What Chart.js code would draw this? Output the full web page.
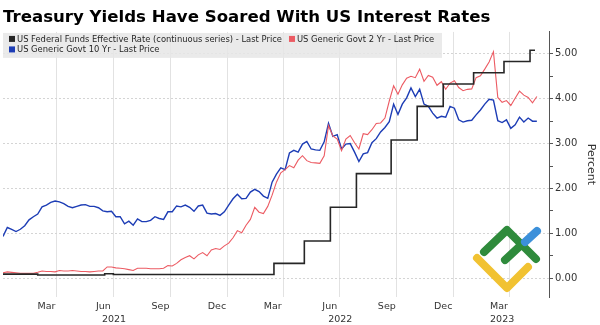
<!DOCTYPE html>
<html>
<head>
<meta charset="utf-8">
<script src="https://cdn.jsdelivr.net/npm/chart.js@4.4.0/dist/chart.umd.min.js"></script>
<style>
    html, body { margin: 0; padding: 0; background: #fff; }
</style>
</head>
<body>
<canvas id="yieldChart" width="600" height="325"></canvas>
<script>
const chartTitle = 'Treasury Yields Have Soared With US Interest Rates';
const seriesNames = [
    'US Federal Funds Effective Rate (continuous series) - Last Price',
    'US Generic Govt 2 Yr - Last Price',
    'US Generic Govt 10 Yr - Last Price'
];

// weekly readings, one per week starting on this date
const weekStart = '2021-01-04';

const govt2y = [
    0.12, 0.14, 0.13, 0.12, 0.11, 0.11, 0.11, 0.11, 0.13, 0.16, 0.15, 0.15, 0.14,
    0.17, 0.16, 0.16, 0.17, 0.16, 0.15, 0.15, 0.14, 0.15, 0.16, 0.16, 0.25, 0.25,
    0.23, 0.22, 0.21, 0.19, 0.17, 0.22, 0.22, 0.22, 0.21, 0.21, 0.21, 0.22, 0.28,
    0.27, 0.33, 0.41, 0.46, 0.50, 0.43, 0.52, 0.57, 0.50, 0.63, 0.66, 0.64, 0.72,
    0.78, 0.90, 1.06, 1.01, 1.18, 1.31, 1.58, 1.47, 1.44, 1.60, 1.85, 2.14, 2.35,
    2.42, 2.51, 2.46, 2.63, 2.73, 2.62, 2.58, 2.57, 2.56, 2.73, 3.40, 3.17, 3.10,
    2.84, 3.10, 3.18, 3.02, 2.88, 3.22, 3.20, 3.31, 3.45, 3.46, 3.57, 3.95, 4.29,
    4.10, 4.31, 4.46, 4.50, 4.47, 4.66, 4.39, 4.52, 4.48, 4.30, 4.38, 4.21, 4.35,
    4.40, 4.25, 4.18, 4.21, 4.22, 4.47, 4.51, 4.66, 4.82, 5.05, 4.03, 3.92, 3.96,
    3.85, 4.01, 4.17, 4.08, 4.03, 3.91, 4.05
];

const govt10y = [
    0.93, 1.13, 1.09, 1.04, 1.09, 1.17, 1.30, 1.37, 1.43, 1.59, 1.63, 1.69, 1.72,
    1.70, 1.66, 1.60, 1.57, 1.60, 1.63, 1.64, 1.60, 1.60, 1.57, 1.50, 1.48, 1.49,
    1.37, 1.37, 1.21, 1.27, 1.18, 1.32, 1.26, 1.26, 1.29, 1.37, 1.33, 1.31, 1.48,
    1.48, 1.61, 1.59, 1.63, 1.58, 1.49, 1.61, 1.63, 1.45, 1.43, 1.44, 1.40, 1.48,
    1.63, 1.77, 1.87, 1.77, 1.78, 1.92, 1.98, 1.93, 1.83, 1.78, 2.14, 2.32, 2.46,
    2.42, 2.79, 2.85, 2.81, 2.99, 3.05, 2.88, 2.86, 2.85, 3.04, 3.45, 3.16, 3.20,
    2.88, 2.99, 3.00, 2.81, 2.60, 2.77, 2.80, 3.02, 3.11, 3.26, 3.36, 3.49, 3.88,
    3.65, 3.88, 4.02, 4.24, 4.05, 4.21, 3.88, 3.83, 3.68, 3.57, 3.61, 3.59, 3.83,
    3.79, 3.53, 3.48, 3.51, 3.52, 3.64, 3.75, 3.88, 3.99, 3.97, 3.51, 3.47, 3.53,
    3.34, 3.42, 3.59, 3.48, 3.57, 3.50, 3.50
];

// fed funds effective rate: date of each change and the new level
const fedDates = [
    '2021-01-04', '2021-03-01', '2021-06-17', '2021-07-01', '2022-03-17', '2022-05-05',
    '2022-06-16', '2022-07-28', '2022-09-22', '2022-11-03', '2022-12-15', '2023-02-02',
    '2023-03-23', '2023-05-04', '2023-05-12'
];
const fedRate = [0.09, 0.07, 0.10, 0.08, 0.33, 0.83, 1.58, 2.33, 3.08, 3.83, 4.33, 4.58, 4.83, 5.08, 5.08];

// axis labels
const monthTickDates = ['2021-03-15', '2021-06-15', '2021-09-15', '2021-12-15', '2022-03-15',
    '2022-06-15', '2022-09-15', '2022-12-15', '2023-03-15'];
const monthTickLabels = ['Mar', 'Jun', 'Sep', 'Dec', 'Mar', 'Jun', 'Sep', 'Dec', 'Mar'];
const quarterGridDates = ['2021-04-01', '2021-07-01', '2021-10-01', '2022-01-01', '2022-04-01',
    '2022-07-01', '2022-10-01', '2023-01-01', '2023-04-01'];
const yearTickDates = ['2021-07-02', '2022-07-02', '2023-03-20'];
const yearTickLabels = ['2021', '2022', '2023'];
const yTickLabels = ['0.00', '1.00', '2.00', '3.00', '4.00', '5.00'];
const yMinorTicks = [0.5, 1.5, 2.5, 3.5, 4.5];

const FONT = "'DejaVu Sans', sans-serif";
const epoch = Date.UTC(2021, 0, 1);
function dayOf(s) {
    return (Date.parse(s) - epoch) / 864e5;
}

const firstDay = dayOf(weekStart);
const pts2y = govt2y.map((v, i) => ({ x: firstDay + i * 7, y: v }));
const pts10y = govt10y.map((v, i) => ({ x: firstDay + i * 7, y: v }));
const ptsFed = fedRate.map((v, i) => ({ x: dayOf(fedDates[i]), y: v }));

const xMin = 3;
const xMax = 883.6;

// Legend drawn as a grey box inside the plot, like the terminal chart
const boxLegend = {
    id: 'boxLegend',
    beforeDatasetsDraw(chart) {
        const ctx = chart.ctx;
        const area = chart.chartArea;
        ctx.save();
        ctx.fillStyle = 'rgba(230,230,230,0.85)';
        ctx.fillRect(area.left, area.top + 1, 439, 25);
        ctx.font = '8.4px ' + FONT;
        ctx.textBaseline = 'middle';
        const rows = [[0, 1], [2]];
        rows.forEach((row, r) => {
            let x = area.left + 6;
            const y = area.top + 7 + r * 10.5;
            row.forEach(i => {
                const ds = chart.data.datasets[i];
                ctx.fillStyle = ds.borderColor;
                ctx.fillRect(x, y - 3, 6, 6);
                ctx.fillStyle = '#262626';
                ctx.fillText(ds.label, x + 8, y + 0.5);
                x += 8 + ctx.measureText(ds.label).width + 7;
            });
        });
        ctx.restore();
    }
};

// watermark logo in the lower right corner
const logoMark = {
    id: 'logoMark',
    afterDraw(chart) {
        const ctx = chart.ctx;
        const stroke = (color, pts) => {
            ctx.strokeStyle = color;
            ctx.beginPath();
            pts.forEach((p, i) => i ? ctx.lineTo(p[0], p[1]) : ctx.moveTo(p[0], p[1]));
            ctx.stroke();
        };
        ctx.save();
        ctx.lineWidth = 8;
        ctx.lineCap = 'round';
        ctx.lineJoin = 'round';
        stroke('#f1c232', [[477, 258], [507, 288], [528, 267]]);
        stroke('#2f8b3c', [[484, 252], [507, 230], [536, 259]]);
        stroke('#2f8b3c', [[505, 260], [519, 247]]);
        stroke('#3c90da', [[525, 242], [537, 231]]);
        ctx.restore();
    }
};

const ctx = document.getElementById('yieldChart').getContext('2d');
new Chart(ctx, {
    type: 'line',
    data: {
        datasets: [
            { label: seriesNames[0], data: ptsFed, borderColor: '#262626', borderWidth: 1.6, stepped: 'before', pointRadius: 0 },
            { label: seriesNames[1], data: pts2y, borderColor: '#ec5b63', borderWidth: 1.1, pointRadius: 0 },
            { label: seriesNames[2], data: pts10y, borderColor: '#1d3db5', borderWidth: 1.4, pointRadius: 0 }
        ]
    },
    plugins: [boxLegend, logoMark],
    options: {
        responsive: false,
        animation: false,
        devicePixelRatio: 1,
        layout: { padding: { left: 3, right: 0, top: 0, bottom: 0 } },
        plugins: {
            title: {
                display: true,
                text: chartTitle,
                align: 'start',
                color: '#000',
                font: { family: FONT, size: 16.6, weight: 'bold' },
                padding: { top: 8, bottom: 4 }
            },
            legend: { display: false },
            tooltip: { enabled: false }
        },
        scales: {
            x: {
                type: 'linear',
                position: 'bottom',
                min: xMin,
                max: xMax,
                afterBuildTicks: scale => {
                    const grid = quarterGridDates.map(d => ({ value: dayOf(d), lbl: '' }));
                    const months = monthTickDates.map((d, i) => ({ value: dayOf(d), lbl: monthTickLabels[i] }));
                    scale.ticks = grid.concat(months).sort((a, b) => a.value - b.value);
                },
                afterFit: scale => { scale.height = 14; },
                ticks: {
                    autoSkip: false,
                    maxRotation: 0,
                    padding: 4,
                    color: '#333',
                    font: { family: FONT, size: 9.5 },
                    callback: (v, i, t) => t[i].lbl
                },
                grid: {
                    color: c => (c.tick && c.tick.lbl) ? 'rgba(0,0,0,0)' : '#e2e2e2',
                    drawTicks: false
                },
                border: { display: false }
            },
            xYear: {
                type: 'linear',
                position: 'bottom',
                min: xMin,
                max: xMax,
                afterBuildTicks: scale => {
                    scale.ticks = yearTickDates.map(d => ({ value: dayOf(d) }));
                },
                afterFit: scale => { scale.height = 14; },
                ticks: {
                    autoSkip: false,
                    maxRotation: 0,
                    padding: -5,
                    color: '#333',
                    font: { family: FONT, size: 9.5 },
                    callback: (v, i) => yearTickLabels[i]
                },
                grid: { display: false },
                border: { display: false }
            },
            y: {
                type: 'linear',
                position: 'right',
                min: -0.42,
                max: 5.49,
                afterBuildTicks: scale => {
                    const major = yTickLabels.map(l => ({ value: parseFloat(l), lbl: l }));
                    const minor = yMinorTicks.map(v => ({ value: v, lbl: '' }));
                    scale.ticks = major.concat(minor).sort((a, b) => a.value - b.value);
                },
                afterFit: scale => { scale.width = 51; },
                ticks: {
                    padding: 2,
                    color: '#333',
                    font: { family: FONT, size: 10 },
                    callback: (v, i, t) => t[i].lbl
                },
                grid: {
                    color: c => (c.tick && c.tick.lbl) ? '#d4d4d4' : 'rgba(0,0,0,0)',
                    tickColor: '#555',
                    tickLength: 4
                },
                border: { display: true, color: '#555', width: 1, dash: [2, 2] },
                title: {
                    display: true,
                    text: 'Percent',
                    color: '#333',
                    font: { family: FONT, size: 11 },
                    padding: { top: 3, bottom: 0 }
                }
            }
        }
    }
});
</script>
</body>
</html>
